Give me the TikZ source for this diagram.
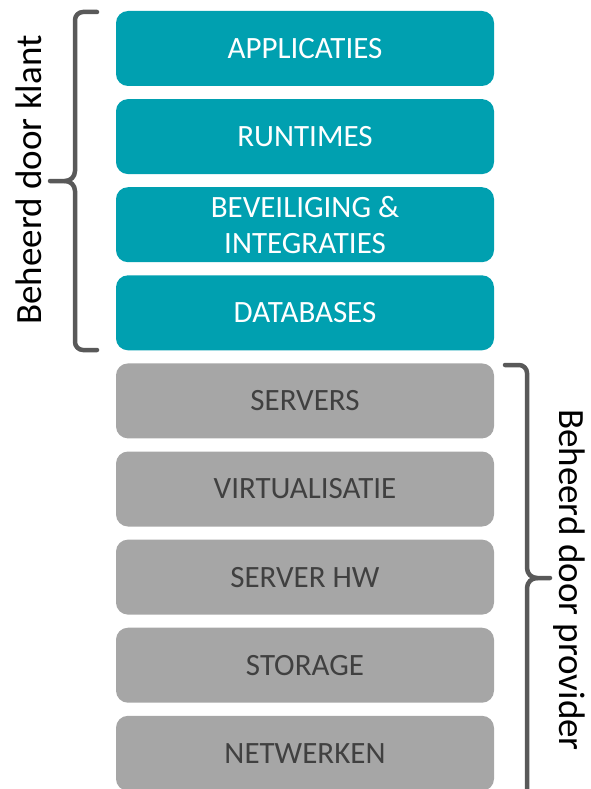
\documentclass[tikz,border=0pt]{standalone}
\usepackage{fontspec}
\setmainfont{Carlito}
\definecolor{tealbox}{RGB}{0,160,176}
\definecolor{greybox}{RGB}{166,166,166}
\definecolor{greytext}{RGB}{64,64,64}
\definecolor{bracecol}{RGB}{89,89,89}
\begin{document}
\begin{tikzpicture}[x=1pt,y=-1pt,
  layer/.style={rectangle, rounded corners=12pt, minimum width=378pt, minimum height=75pt,
    inner sep=0pt, font=\fontsize{31}{36}\selectfont, align=center},
  klant/.style={layer, fill=tealbox, text=white},
  provider/.style={layer, fill=greybox, text=greytext},
  brace/.style={draw=bracecol, line width=4.5pt, line cap=round, line join=round},
  side/.style={font=\fontsize{37}{40}\selectfont, text=black}]
  \useasboundingbox (0,0) rectangle (591,789);
  \clip (0,0) rectangle (591,789);
  % customer-managed layers
  \node[klant] (app) at (305,48.5) {\raisebox{-1.5pt}{APPLICATIES}};
  \node[klant] (run) at (305,136.6) {\raisebox{-1.5pt}{RUNTIMES}};
  \node[klant] (sec) at (305,224.7) {BEVEILIGING \&\\INTEGRATIES};
  \node[klant] (db)  at (305,312.8) {\raisebox{-1.5pt}{DATABASES}};
  % provider-managed layers
  \node[provider] (srv)  at (305,400.9) {\raisebox{-1.5pt}{SERVERS}};
  \node[provider] (virt) at (305,489.0) {\raisebox{-1.5pt}{VIRTUALISATIE}};
  \node[provider] (hw)   at (305,577.1) {\raisebox{-1.5pt}{SERVER HW}};
  \node[provider] (stor) at (305,665.2) {\raisebox{-1.5pt}{STORAGE}};
  \node[provider] (net)  at (305,753.3) {\raisebox{-1.5pt}{NETWERKEN}};
  % left brace
  \coordinate (lt) at (97,12);
  \coordinate (lm) at (50,181);
  \coordinate (lb) at (97,350);
  \draw[brace] (lt) -- (83,12) to[out=180,in=90] (75,20) -- (75,171)
    to[out=-90,in=0] (65,181) -- (lm);
  \draw[brace] (65,181) to[out=0,in=90] (75,191) -- (75,342)
    to[out=-90,in=180] (83,350) -- (lb);
  % right brace
  \coordinate (rt) at (505,365);
  \coordinate (rm) at (550,578);
  \draw[brace] (rt) -- (519,365) to[out=0,in=90] (527,373) -- (527,568)
    to[out=-90,in=180] (537,578) -- (rm);
  \draw[brace] (537,578) to[out=180,in=90] (527,588) -- (527,800);
  % labels
  \node[side, rotate=90] (lklant) at (29,180) {Beheerd door klant};
  \node[side, rotate=-90] (lprov) at (569,580) {Beheerd door provider};
\end{tikzpicture}
\end{document}
